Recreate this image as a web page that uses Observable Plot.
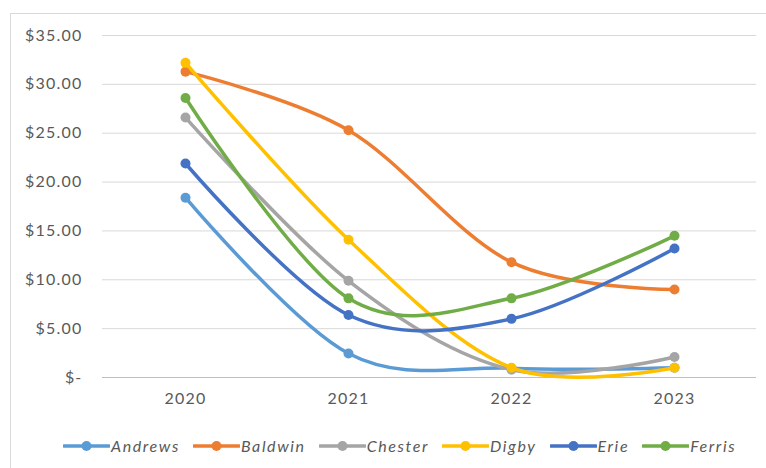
<!DOCTYPE html>
<html><head><meta charset="utf-8">
<script src="https://cdn.jsdelivr.net/npm/d3@7"></script>
<script src="https://cdn.jsdelivr.net/npm/@observablehq/plot@0.6"></script>
<style>
body{margin:0;background:#fff;width:766px;height:468px;overflow:hidden;position:relative;font-family:Lato,"Open Sans",sans-serif;}
#frame{position:absolute;left:10px;top:13px;width:800px;height:500px;border:1px solid #d9d9d9;box-sizing:border-box;}
#chart{position:absolute;left:0;top:0;}
#chart svg text{letter-spacing:1.2px;}
#legend{position:absolute;left:63px;top:436px;display:flex;align-items:center;font-style:italic;font-size:16px;color:#595959;letter-spacing:1.6px;white-space:nowrap;}
#legend .item{display:flex;align-items:center;margin-right:13px;}
#legend svg{display:block;margin-right:1px;}
</style>
</head><body>
<div id="frame"></div>
<div id="chart"></div>
<div id="legend"></div>
<script>
const years = ["2020", "2021", "2022", "2023"];
const companies = ["Andrews", "Baldwin", "Chester", "Digby", "Erie", "Ferris"];
const andrews = [18.4, 2.45, 0.95, 1.0];
const baldwin = [31.3, 25.3, 11.8, 9.0];
const chester = [26.6, 9.9, 0.8, 2.1];
const digby = [32.2, 14.1, 1.0, 1.0];
const erie = [21.9, 6.4, 6.0, 13.2];
const ferris = [28.6, 8.1, 8.1, 14.5];
const colors = ["#5B9BD5", "#ED7D31", "#A5A5A5", "#FFC000", "#4472C4", "#70AD47"];
const yTicks = [0, 5, 10, 15, 20, 25, 30, 35];

const seriesValues = [andrews, baldwin, chester, digby, erie, ferris];
const data = companies.flatMap((c, i) => years.map((y, j) => ({company: c, year: y, value: seriesValues[i][j]})));

const fmt = d => d === 0 ? "$-" : "$" + d.toFixed(2);

const seriesMarks = companies.flatMap(c => {
  const rows = data.filter(d => d.company === c);
  return [
    Plot.line(rows, {x: "year", y: "value", stroke: "company", strokeWidth: 3.5, curve: "cardinal", tension: 0, strokeLinecap: "round", strokeLinejoin: "round"}),
    Plot.dot(rows, {x: "year", y: "value", fill: "company", r: 5})
  ];
});

const chart = Plot.plot({
  width: 766,
  height: 420,
  marginLeft: 102,
  marginRight: 10,
  marginTop: 35,
  marginBottom: 43,
  style: {fontFamily: "Lato, 'Open Sans', sans-serif", fontSize: "16px", color: "#595959", background: "transparent", overflow: "visible"},
  x: {type: "point", domain: years, padding: 0.5, label: null, tickSize: 0, tickPadding: 15},
  y: {domain: [0, 35], ticks: yTicks, tickFormat: fmt, label: null, tickSize: 0, tickPadding: 20},
  color: {domain: companies, range: colors},
  marks: [
    Plot.gridY(yTicks.filter(d => d > 0), {stroke: "#d9d9d9", strokeOpacity: 1, strokeWidth: 1}),
    Plot.ruleY([0], {stroke: "#bfbfbf", strokeWidth: 1}),
    ...seriesMarks
  ]
});
document.getElementById("chart").appendChild(chart);

const legend = document.getElementById("legend");
companies.forEach((c, i) => {
  const item = document.createElement("span");
  item.className = "item";
  item.innerHTML = `<svg width="47" height="14"><line x1="1" y1="7" x2="46" y2="7" stroke="${colors[i]}" stroke-width="3.5" stroke-linecap="round"/><circle cx="23.5" cy="7" r="5" fill="${colors[i]}"/></svg><span>${c}</span>`;
  legend.appendChild(item);
});
</script>
</body></html>
